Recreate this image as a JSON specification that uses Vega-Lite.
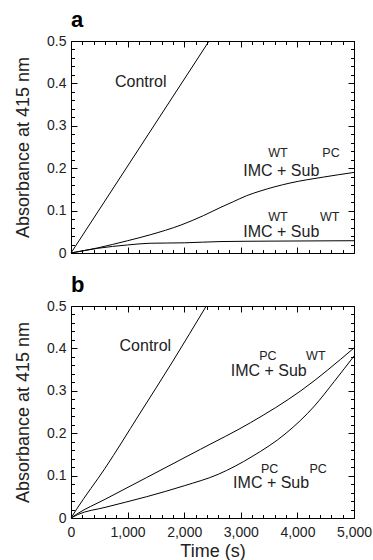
{
  "$schema": "https://vega.github.io/schema/vega-lite/v6.json",
  "padding": {"left": 14, "top": 8, "right": 0, "bottom": 0},
  "config": {
    "font": "Liberation Sans",
    "view": {"stroke": "#000", "strokeWidth": 1},
    "axis": {"domain": false, "grid": false, "tickColor": "#000", "tickWidth": 1, "labelColor": "#222", "titleColor": "#222", "labelFontSize": 14, "titleFontSize": 18, "titleFontWeight": "normal", "labelOverlap": false, "labelFlush": false, "labelBound": false},
    "title": {"fontSize": 22, "fontWeight": "bold", "anchor": "start", "color": "#000", "frame": "group", "baseline": "alphabetic", "offset": 2},
    "concat": {"spacing": 12}
  },
  "datasets": {
    "curves": [
      {"panel": "a", "series": "Control", "t": 0, "a": 0},
      {"panel": "a", "series": "Control", "t": 2440, "a": 0.5},
      {"panel": "a", "series": "WT_PC", "t": 0, "a": 0},
      {"panel": "a", "series": "WT_PC", "t": 470, "a": 0.012},
      {"panel": "a", "series": "WT_PC", "t": 1000, "a": 0.029},
      {"panel": "a", "series": "WT_PC", "t": 1400, "a": 0.043},
      {"panel": "a", "series": "WT_PC", "t": 1943, "a": 0.066},
      {"panel": "a", "series": "WT_PC", "t": 2337, "a": 0.088},
      {"panel": "a", "series": "WT_PC", "t": 2650, "a": 0.108},
      {"panel": "a", "series": "WT_PC", "t": 2867, "a": 0.121},
      {"panel": "a", "series": "WT_PC", "t": 3100, "a": 0.135},
      {"panel": "a", "series": "WT_PC", "t": 3339, "a": 0.146},
      {"panel": "a", "series": "WT_PC", "t": 3869, "a": 0.165},
      {"panel": "a", "series": "WT_PC", "t": 4458, "a": 0.179},
      {"panel": "a", "series": "WT_PC", "t": 5000, "a": 0.19},
      {"panel": "a", "series": "WT_WT", "t": 0, "a": 0},
      {"panel": "a", "series": "WT_WT", "t": 470, "a": 0.011},
      {"panel": "a", "series": "WT_WT", "t": 1000, "a": 0.019},
      {"panel": "a", "series": "WT_WT", "t": 1400, "a": 0.023},
      {"panel": "a", "series": "WT_WT", "t": 2000, "a": 0.024},
      {"panel": "a", "series": "WT_WT", "t": 2650, "a": 0.027},
      {"panel": "a", "series": "WT_WT", "t": 3500, "a": 0.028},
      {"panel": "a", "series": "WT_WT", "t": 5000, "a": 0.029},
      {"panel": "b", "series": "Control", "t": 0, "a": 0},
      {"panel": "b", "series": "Control", "t": 100, "a": 0.021},
      {"panel": "b", "series": "Control", "t": 600, "a": 0.117},
      {"panel": "b", "series": "Control", "t": 1200, "a": 0.243},
      {"panel": "b", "series": "Control", "t": 1800, "a": 0.37},
      {"panel": "b", "series": "Control", "t": 2390, "a": 0.5},
      {"panel": "b", "series": "PC_WT", "t": 0, "a": 0},
      {"panel": "b", "series": "PC_WT", "t": 100, "a": 0.009},
      {"panel": "b", "series": "PC_WT", "t": 600, "a": 0.044},
      {"panel": "b", "series": "PC_WT", "t": 1330, "a": 0.095},
      {"panel": "b", "series": "PC_WT", "t": 2287, "a": 0.162},
      {"panel": "b", "series": "PC_WT", "t": 3174, "a": 0.225},
      {"panel": "b", "series": "PC_WT", "t": 4060, "a": 0.3},
      {"panel": "b", "series": "PC_WT", "t": 5000, "a": 0.401},
      {"panel": "b", "series": "PC_PC", "t": 0, "a": 0},
      {"panel": "b", "series": "PC_PC", "t": 118, "a": 0.008},
      {"panel": "b", "series": "PC_PC", "t": 600, "a": 0.025},
      {"panel": "b", "series": "PC_PC", "t": 1330, "a": 0.05},
      {"panel": "b", "series": "PC_PC", "t": 2000, "a": 0.076},
      {"panel": "b", "series": "PC_PC", "t": 2600, "a": 0.103},
      {"panel": "b", "series": "PC_PC", "t": 3200, "a": 0.145},
      {"panel": "b", "series": "PC_PC", "t": 3800, "a": 0.2},
      {"panel": "b", "series": "PC_PC", "t": 4300, "a": 0.264},
      {"panel": "b", "series": "PC_PC", "t": 4651, "a": 0.322},
      {"panel": "b", "series": "PC_PC", "t": 5000, "a": 0.382}
    ],
    "labels": [
      {"panel": "a", "kind": "main", "x": 777, "y": 0.391, "text": "Control"},
      {"panel": "a", "kind": "main", "x": 3044, "y": 0.1825, "text": "IMC + Sub"},
      {"panel": "a", "kind": "sup", "x": 3486, "y": 0.2257, "text": "WT"},
      {"panel": "a", "kind": "sup", "x": 4440, "y": 0.2257, "text": "PC"},
      {"panel": "a", "kind": "main", "x": 3044, "y": 0.037, "text": "IMC + Sub"},
      {"panel": "a", "kind": "sup", "x": 3486, "y": 0.0764, "text": "WT"},
      {"panel": "a", "kind": "sup", "x": 4399, "y": 0.0764, "text": "WT"},
      {"panel": "b", "kind": "main", "x": 858, "y": 0.3948, "text": "Control"},
      {"panel": "b", "kind": "main", "x": 2822, "y": 0.3339, "text": "IMC + Sub"},
      {"panel": "b", "kind": "sup", "x": 3325, "y": 0.3718, "text": "PC"},
      {"panel": "b", "kind": "sup", "x": 4154, "y": 0.3718, "text": "WT"},
      {"panel": "b", "kind": "main", "x": 2864, "y": 0.0704, "text": "IMC + Sub"},
      {"panel": "b", "kind": "sup", "x": 3355, "y": 0.106, "text": "PC"},
      {"panel": "b", "kind": "sup", "x": 4213, "y": 0.106, "text": "PC"}
    ]
  },
  "vconcat": [
    {
      "title": {"text": "a"},
      "width": 283,
      "height": 212,
      "layer": [
        {
          "data": {"name": "curves"},
          "transform": [{"filter": "datum.panel === 'a'"}],
          "mark": {"type": "line", "color": "#000", "strokeWidth": 1, "interpolate": "monotone"},
          "encoding": {
            "x": {"field": "t", "type": "quantitative", "scale": {"domain": [0, 5000], "nice": false, "zero": false},
              "axis": {"orient": "bottom", "labels": false, "title": null,
                "values": [0,200,400,600,800,1000,1200,1400,1600,1800,2000,2200,2400,2600,2800,3000,3200,3400,3600,3800,4000,4200,4400,4600,4800,5000],
                "tickSize": {"condition": {"test": "datum.value % 1000 === 0", "value": -6}, "value": -3.5}}},
            "y": {"field": "a", "type": "quantitative", "scale": {"domain": [0, 0.5], "nice": false},
              "axis": {"orient": "left", "title": "Absorbance at 415 nm", "titlePadding": 14, "labelPadding": 11,
                "values": [0,0.02,0.04,0.06,0.08,0.1,0.12,0.14,0.16,0.18,0.2,0.22,0.24,0.26,0.28,0.3,0.32,0.34,0.36,0.38,0.4,0.42,0.44,0.46,0.48,0.5],
                "labelExpr": "abs(datum.value*10 - round(datum.value*10)) < 1e-6 ? (datum.value === 0 ? '0' : format(datum.value, '.1f')) : ''",
                "tickSize": {"condition": {"test": "abs(datum.value*10 - round(datum.value*10)) < 1e-6", "value": -6}, "value": -3.5}}},
            "detail": {"field": "series"}
          }
        },
        {
          "data": {"name": "labels"},
          "transform": [{"filter": "datum.panel === 'a' && datum.kind === 'main'"}],
          "mark": {"type": "text", "align": "left", "baseline": "alphabetic", "fontSize": 16, "color": "#222"},
          "encoding": {
            "x": {"field": "x", "type": "quantitative", "scale": {"domain": [0, 5000], "nice": false, "zero": false},
              "axis": {"orient": "top", "labels": false, "title": null,
                "values": [0,200,400,600,800,1000,1200,1400,1600,1800,2000,2200,2400,2600,2800,3000,3200,3400,3600,3800,4000,4200,4400,4600,4800,5000],
                "tickSize": {"condition": {"test": "datum.value % 1000 === 0", "value": -6}, "value": -3.5}}},
            "y": {"field": "y", "type": "quantitative", "scale": {"domain": [0, 0.5], "nice": false},
              "axis": {"orient": "right", "labels": false, "title": null,
                "values": [0,0.02,0.04,0.06,0.08,0.1,0.12,0.14,0.16,0.18,0.2,0.22,0.24,0.26,0.28,0.3,0.32,0.34,0.36,0.38,0.4,0.42,0.44,0.46,0.48,0.5],
                "tickSize": {"condition": {"test": "abs(datum.value*10 - round(datum.value*10)) < 1e-6", "value": -6}, "value": -3.5}}},
            "text": {"field": "text"}
          }
        },
        {
          "data": {"name": "labels"},
          "transform": [{"filter": "datum.panel === 'a' && datum.kind === 'sup'"}],
          "mark": {"type": "text", "align": "left", "baseline": "alphabetic", "fontSize": 12.5, "color": "#222"},
          "encoding": {
            "x": {"field": "x", "type": "quantitative", "scale": {"domain": [0, 5000], "nice": false, "zero": false}, "axis": null},
            "y": {"field": "y", "type": "quantitative", "scale": {"domain": [0, 0.5], "nice": false}, "axis": null},
            "text": {"field": "text"}
          }
        }
      ],
      "resolve": {"axis": {"x": "independent", "y": "independent"}}
    },
    {
      "title": {"text": "b"},
      "width": 283,
      "height": 212,
      "layer": [
        {
          "data": {"name": "curves"},
          "transform": [{"filter": "datum.panel === 'b'"}],
          "mark": {"type": "line", "color": "#000", "strokeWidth": 1, "interpolate": "monotone"},
          "encoding": {
            "x": {"field": "t", "type": "quantitative", "scale": {"domain": [0, 5000], "nice": false, "zero": false},
              "axis": {"orient": "bottom", "title": "Time (s)", "titlePadding": 1, "labelPadding": 13,
                "values": [0,200,400,600,800,1000,1200,1400,1600,1800,2000,2200,2400,2600,2800,3000,3200,3400,3600,3800,4000,4200,4400,4600,4800,5000],
                "labelExpr": "datum.value % 1000 === 0 ? format(datum.value, ',') : ''",
                "tickSize": {"condition": {"test": "datum.value % 1000 === 0", "value": -6}, "value": -3.5}}},
            "y": {"field": "a", "type": "quantitative", "scale": {"domain": [0, 0.5], "nice": false},
              "axis": {"orient": "left", "title": "Absorbance at 415 nm", "titlePadding": 14, "labelPadding": 11,
                "values": [0,0.02,0.04,0.06,0.08,0.1,0.12,0.14,0.16,0.18,0.2,0.22,0.24,0.26,0.28,0.3,0.32,0.34,0.36,0.38,0.4,0.42,0.44,0.46,0.48,0.5],
                "labelExpr": "abs(datum.value*10 - round(datum.value*10)) < 1e-6 ? (datum.value === 0 ? '0' : format(datum.value, '.1f')) : ''",
                "tickSize": {"condition": {"test": "abs(datum.value*10 - round(datum.value*10)) < 1e-6", "value": -6}, "value": -3.5}}},
            "detail": {"field": "series"}
          }
        },
        {
          "data": {"name": "labels"},
          "transform": [{"filter": "datum.panel === 'b' && datum.kind === 'main'"}],
          "mark": {"type": "text", "align": "left", "baseline": "alphabetic", "fontSize": 16, "color": "#222"},
          "encoding": {
            "x": {"field": "x", "type": "quantitative", "scale": {"domain": [0, 5000], "nice": false, "zero": false},
              "axis": {"orient": "top", "labels": false, "title": null,
                "values": [0,200,400,600,800,1000,1200,1400,1600,1800,2000,2200,2400,2600,2800,3000,3200,3400,3600,3800,4000,4200,4400,4600,4800,5000],
                "tickSize": {"condition": {"test": "datum.value % 1000 === 0", "value": -6}, "value": -3.5}}},
            "y": {"field": "y", "type": "quantitative", "scale": {"domain": [0, 0.5], "nice": false},
              "axis": {"orient": "right", "labels": false, "title": null,
                "values": [0,0.02,0.04,0.06,0.08,0.1,0.12,0.14,0.16,0.18,0.2,0.22,0.24,0.26,0.28,0.3,0.32,0.34,0.36,0.38,0.4,0.42,0.44,0.46,0.48,0.5],
                "tickSize": {"condition": {"test": "abs(datum.value*10 - round(datum.value*10)) < 1e-6", "value": -6}, "value": -3.5}}},
            "text": {"field": "text"}
          }
        },
        {
          "data": {"name": "labels"},
          "transform": [{"filter": "datum.panel === 'b' && datum.kind === 'sup'"}],
          "mark": {"type": "text", "align": "left", "baseline": "alphabetic", "fontSize": 12.5, "color": "#222"},
          "encoding": {
            "x": {"field": "x", "type": "quantitative", "scale": {"domain": [0, 5000], "nice": false, "zero": false}, "axis": null},
            "y": {"field": "y", "type": "quantitative", "scale": {"domain": [0, 0.5], "nice": false}, "axis": null},
            "text": {"field": "text"}
          }
        }
      ],
      "resolve": {"axis": {"x": "independent", "y": "independent"}}
    }
  ]
}
